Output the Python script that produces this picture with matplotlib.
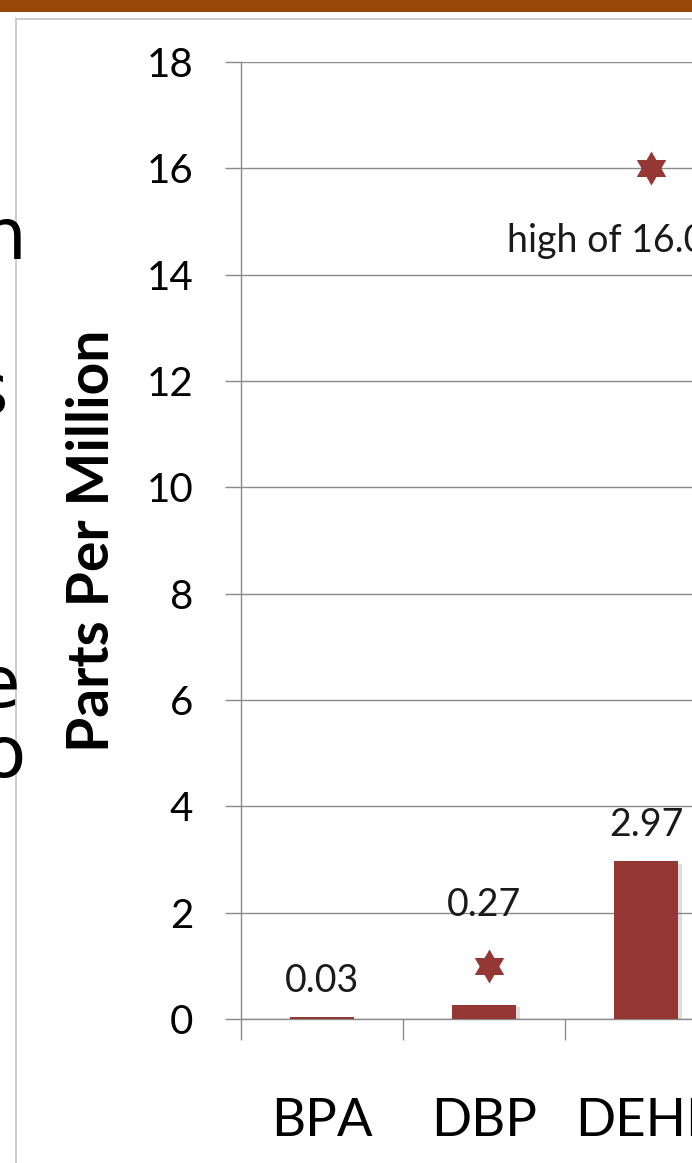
import numpy as np
import matplotlib
matplotlib.use("Agg")
import matplotlib.pyplot as plt
from matplotlib.path import Path
from matplotlib.patches import Rectangle
from matplotlib.lines import Line2D
import matplotlib.patheffects as pe

# Chemical concentrations (parts per million)
categories = ["BPA", "DBP", "DEHP"]
averages = [0.03, 0.27, 2.97]
avg_labels = ["0.03", "0.27", "2.97"]
highs = [None, 1.0, 16.0]
high_note = "high of 16.0"
yticks = [0, 2, 4, 6, 8, 10, 12, 14, 16, 18]

BAR = "#953735"
GRID = "#8a8a8a"
W, H = 692, 1163

plt.rcParams["font.family"] = ["Lato", "DejaVu Sans"]

fig = plt.figure(figsize=(W / 100, H / 100), dpi=100)

def fx(px):
    return px / W

def fy(py):
    return 1 - py / H

# slide header band and content frame
fig.add_artist(Rectangle((0, fy(12)), 1, 12 / H, transform=fig.transFigure,
                         color="#984807", lw=0, zorder=0))
fig.add_artist(Line2D([fx(16), fx(16)], [fy(19), 0], transform=fig.transFigure,
                      color="#c4c4c4", lw=1.2))
fig.add_artist(Line2D([fx(16), 1], [fy(19), fy(19)], transform=fig.transFigure,
                      color="#c4c4c4", lw=1.2))

# trailing letters of the neighbouring slide text column
for ch, xr, yb in [("n", 26, 259), ("s", 8, 414), ("e", 21, 707), ("o", 26, 777)]:
    fig.text(fx(xr), fy(yb), ch, ha="right", va="baseline", fontsize=52,
             family=["DejaVu Sans"], color="black")

n = len(categories)
cat_px = 162
ax_left, ax_bottom_px, ax_top_px = 241, 1019, 62
ax = fig.add_axes([fx(ax_left), fy(ax_bottom_px), n * cat_px / W,
                   (ax_bottom_px - ax_top_px) / H])
ax.set_xlim(-0.5, n - 0.5)
ax.set_ylim(0, 18)

x = np.arange(n)
bars = ax.bar(x, averages, width=0.4, color=BAR, zorder=3)
for b in bars:
    b.set_path_effects([pe.SimplePatchShadow(offset=(2.5, -2), alpha=0.22,
                                             shadow_rgbFace="#666666"), pe.Normal()])

# hexagram marker for the high values
ang = np.deg2rad(90 + 30 * np.arange(12))
rad = np.where(np.arange(12) % 2 == 0, 1.0, 1 / np.sqrt(3))
verts = np.column_stack([rad * np.cos(ang), rad * np.sin(ang)])
verts = np.vstack([verts, verts[:1]])
codes = [Path.MOVETO] + [Path.LINETO] * 11 + [Path.CLOSEPOLY]
hexagram = Path(verts, codes)

hx = [i + 0.03 for i, h in enumerate(highs) if h is not None]
hy = [h for h in highs if h is not None]
ax.plot(hx, hy, linestyle="none", marker=hexagram, markersize=24.5,
        color=BAR, markeredgewidth=0, zorder=4)

# value labels: above the bar, or above a nearby high marker
for i, (v, lab, h) in enumerate(zip(averages, avg_labels, highs)):
    if h is not None and h - v < 2:
        anchor, off = h, 44
    else:
        anchor, off = v, 26
    ax.annotate(lab, (i, anchor), xytext=(0, off), textcoords="offset points",
                ha="center", va="center", fontsize=27, color="#1a1a1a")

big = int(np.argmax([h if h is not None else -1 for h in highs]))
ax.annotate(high_note, (big, highs[big]), xytext=(-100, -52),
            textcoords="offset points", ha="left", va="center",
            fontsize=27, color="#1a1a1a")

ax.set_yticks(yticks)
ax.set_yticklabels([str(t) for t in yticks])
ax.yaxis.grid(True, color=GRID, lw=1.0, zorder=0)
ax.set_axisbelow(True)
ax.tick_params(axis="y", direction="out", length=11.5, width=1.0, color=GRID,
               pad=23, labelsize=29, labelcolor="black")

ax.set_xticks(x)
ax.set_xticklabels(categories)
ax.set_xticks(np.arange(n + 1) - 0.5, minor=True)
ax.tick_params(axis="x", which="major", length=0, pad=57, labelsize=38)
ax.tick_params(axis="x", which="minor", direction="out", length=15, width=1.0,
               color=GRID)

for side in ["top", "right"]:
    ax.spines[side].set_visible(False)
for side in ["left", "bottom"]:
    ax.spines[side].set_color(GRID)
    ax.spines[side].set_linewidth(1.0)

ax.set_ylabel("Parts Per Million", fontsize=41, fontweight="bold")
ax.yaxis.set_label_coords(fx(93 - ax_left) / (n * cat_px / W), 0.5)
ax.yaxis.label.set_va("center")

fig.savefig("out.png", dpi=100)
